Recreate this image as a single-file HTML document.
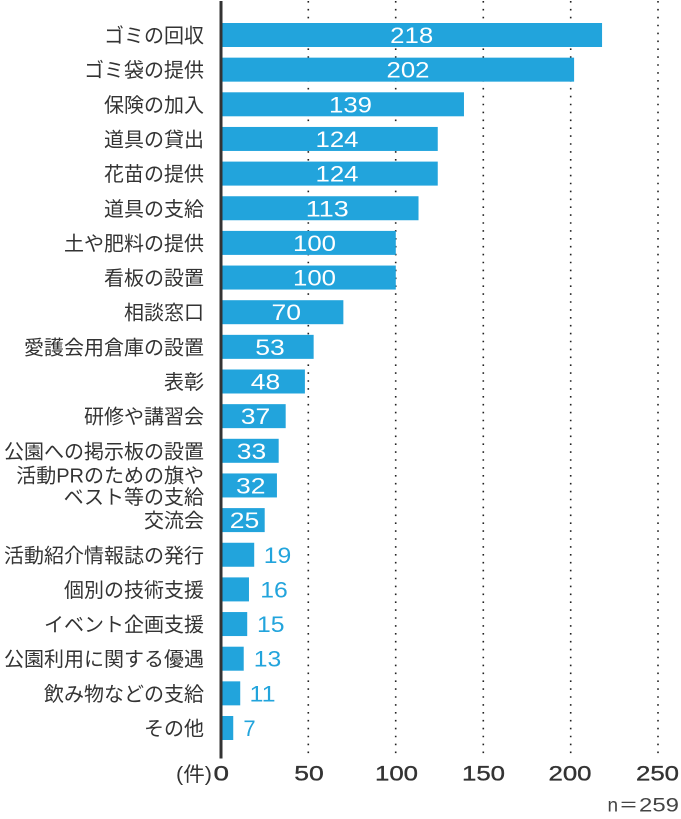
<!DOCTYPE html>
<html>
<head>
<meta charset="utf-8">
<style>
html,body{margin:0;padding:0;background:#fff;}
svg{display:block;}
.cat{font-family:"Liberation Sans","Noto Sans CJK JP",sans-serif;font-size:20px;fill:#333;text-anchor:end;}
.in{font-family:"Liberation Sans",sans-serif;font-size:22.5px;fill:#fff;text-anchor:middle;}
.out{font-family:"Liberation Sans",sans-serif;font-size:22px;fill:#22a4dc;text-anchor:middle;}
.tick{font-family:"Liberation Sans",sans-serif;font-size:21px;fill:#333;stroke:#333;stroke-width:0.35;text-anchor:middle;}
</style>
</head>
<body>
<svg width="681" height="819" viewBox="0 0 681 819" xmlns="http://www.w3.org/2000/svg">
<!-- gridlines -->
<g stroke="#222" stroke-width="1.6" stroke-dasharray="1.6 6.3">
<line x1="308.3" y1="1" x2="308.3" y2="758"/>
<line x1="395.7" y1="1" x2="395.7" y2="758"/>
<line x1="483.3" y1="1" x2="483.3" y2="758"/>
<line x1="570.7" y1="1" x2="570.7" y2="758"/>
<line x1="658" y1="1" x2="658" y2="758"/>
</g>
<!-- bars -->
<g fill="#22a4dc">
<rect x="221" y="23" width="381.06" height="24"/>
<rect x="221" y="57.65" width="353.1" height="24"/>
<rect x="221" y="92.3" width="242.97" height="24"/>
<rect x="221" y="126.95" width="216.75" height="24"/>
<rect x="221" y="161.6" width="216.75" height="24"/>
<rect x="221" y="196.25" width="197.52" height="24"/>
<rect x="221" y="230.9" width="174.8" height="24"/>
<rect x="221" y="265.55" width="174.8" height="24"/>
<rect x="221" y="300.2" width="122.36" height="24"/>
<rect x="221" y="334.85" width="92.64" height="24"/>
<rect x="221" y="369.5" width="83.9" height="24"/>
<rect x="221" y="404.15" width="64.68" height="24"/>
<rect x="221" y="438.8" width="57.68" height="24"/>
<rect x="221" y="473.45" width="55.94" height="24"/>
<rect x="221" y="508.1" width="43.7" height="24"/>
<rect x="221" y="542.75" width="33.21" height="24"/>
<rect x="221" y="577.4" width="27.97" height="24"/>
<rect x="221" y="612.05" width="26.22" height="24"/>
<rect x="221" y="646.7" width="22.72" height="24"/>
<rect x="221" y="681.35" width="19.23" height="24"/>
<rect x="221" y="716" width="12.24" height="24"/>
</g>
<!-- axis -->
<rect x="219.5" y="1" width="3" height="757.5" fill="#333"/>
<!-- inner labels -->
<g class="in">
<text x="411.7" y="43" textLength="43" lengthAdjust="spacingAndGlyphs">218</text>
<text x="408" y="77.65" textLength="43" lengthAdjust="spacingAndGlyphs">202</text>
<text x="350.5" y="112.3" textLength="43" lengthAdjust="spacingAndGlyphs">139</text>
<text x="337" y="146.95" textLength="43" lengthAdjust="spacingAndGlyphs">124</text>
<text x="337" y="181.6" textLength="43" lengthAdjust="spacingAndGlyphs">124</text>
<text x="327.3" y="216.25" textLength="43" lengthAdjust="spacingAndGlyphs">113</text>
<text x="314.5" y="250.9" textLength="43" lengthAdjust="spacingAndGlyphs">100</text>
<text x="314.5" y="285.55" textLength="43" lengthAdjust="spacingAndGlyphs">100</text>
<text x="286.3" y="320.2" textLength="29.5" lengthAdjust="spacingAndGlyphs">70</text>
<text x="270" y="354.85" textLength="29.5" lengthAdjust="spacingAndGlyphs">53</text>
<text x="265.5" y="389.5" textLength="29.5" lengthAdjust="spacingAndGlyphs">48</text>
<text x="255.5" y="424.15" textLength="29.5" lengthAdjust="spacingAndGlyphs">37</text>
<text x="251.5" y="458.8" textLength="29.5" lengthAdjust="spacingAndGlyphs">33</text>
<text x="250.8" y="493.45" textLength="29.5" lengthAdjust="spacingAndGlyphs">32</text>
<text x="244.5" y="528.1" textLength="29.5" lengthAdjust="spacingAndGlyphs">25</text>
</g>
<!-- outer labels -->
<g class="out">
<text x="277.5" y="562.75" textLength="27.5" lengthAdjust="spacingAndGlyphs">19</text>
<text x="274" y="597.4" textLength="27.5" lengthAdjust="spacingAndGlyphs">16</text>
<text x="270.8" y="632.05" textLength="27.5" lengthAdjust="spacingAndGlyphs">15</text>
<text x="267.5" y="666.7" textLength="27.5" lengthAdjust="spacingAndGlyphs">13</text>
<text x="262.5" y="701.35" textLength="26" lengthAdjust="spacingAndGlyphs">11</text>
<text x="249.5" y="736">7</text>
</g>
<!-- category labels -->
<g class="cat">
<text x="204" y="42.5">ゴミの回収</text>
<text x="204" y="77.15">ゴミ袋の提供</text>
<text x="204" y="111.8">保険の加入</text>
<text x="204" y="146.45">道具の貸出</text>
<text x="204" y="181.1">花苗の提供</text>
<text x="204" y="215.75">道具の支給</text>
<text x="204" y="250.4">土や肥料の提供</text>
<text x="204" y="285.05">看板の設置</text>
<text x="204" y="319.7">相談窓口</text>
<text x="204" y="354.35">愛護会用倉庫の設置</text>
<text x="204" y="389">表彰</text>
<text x="204" y="423.65">研修や講習会</text>
<text x="204" y="458.3">公園への掲示板の設置</text>
<text x="204" y="482.5">活動PRのための旗や</text>
<text x="204" y="504.2">ベスト等の支給</text>
<text x="204" y="527.6">交流会</text>
<text x="204" y="562.25">活動紹介情報誌の発行</text>
<text x="204" y="596.9">個別の技術支援</text>
<text x="204" y="631.55">イベント企画支援</text>
<text x="204" y="666.2">公園利用に関する優遇</text>
<text x="204" y="700.85">飲み物などの支給</text>
<text x="204" y="735.5">その他</text>
</g>
<!-- ticks -->
<g class="tick">
<text x="221.3" y="780.5" textLength="15.5" lengthAdjust="spacingAndGlyphs">0</text>
<text x="309" y="780.5" textLength="29.5" lengthAdjust="spacingAndGlyphs">50</text>
<text x="396.5" y="780.5" textLength="43" lengthAdjust="spacingAndGlyphs">100</text>
<text x="483.5" y="780.5" textLength="43" lengthAdjust="spacingAndGlyphs">150</text>
<text x="570" y="780.5" textLength="43" lengthAdjust="spacingAndGlyphs">200</text>
<text x="657.5" y="780.5" textLength="43" lengthAdjust="spacingAndGlyphs">250</text>
</g>
<text x="176" y="781" font-family="'Liberation Sans','Noto Sans CJK JP',sans-serif" font-size="20" fill="#333" textLength="36" lengthAdjust="spacingAndGlyphs">(件)</text>
<text x="607.5" y="811.7" font-family="'Liberation Sans','Noto Sans CJK JP',sans-serif" font-size="19" fill="#444">n<tspan x="619">＝</tspan><tspan x="639" textLength="40" lengthAdjust="spacingAndGlyphs">259</tspan></text>
</svg>
</body>
</html>
